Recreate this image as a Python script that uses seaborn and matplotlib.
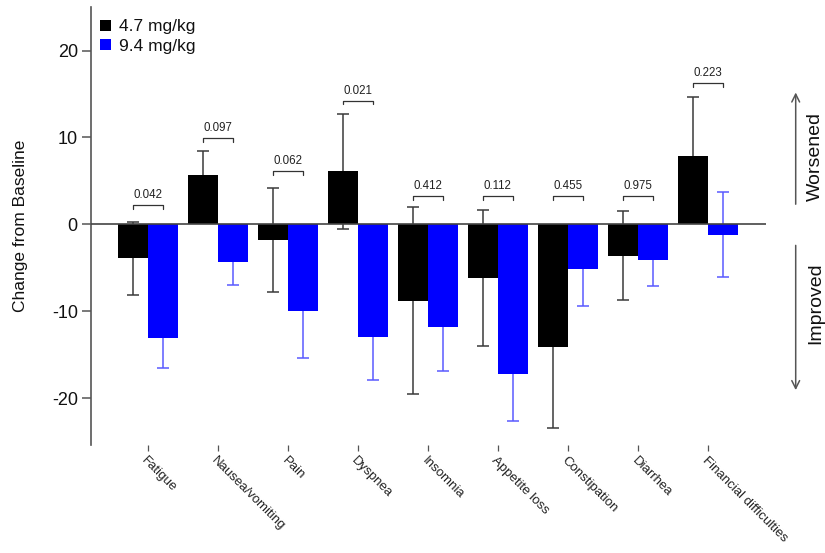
import matplotlib
matplotlib.use("Agg")
import matplotlib.pyplot as plt
import seaborn as sns
import pandas as pd

# QLQ-C30 symptom scales: mean change from baseline and standard error per dose
symptoms = ["Fatigue", "Nausea/vomiting", "Pain", "Dyspnea", "Insomnia",
            "Appetite loss", "Constipation", "Diarrhea", "Financial difficulties"]
doses = ["4.7 mg/kg", "9.4 mg/kg"]
mean_low = [-3.9, 5.7, -1.8, 6.1, -8.8, -6.2, -14.1, -3.6, 7.9]
se_low = [4.2, 2.8, 6.0, 6.65, 10.75, 7.8, 9.3, 5.1, 6.8]
mean_high = [-13.1, -4.3, -10.0, -13.0, -11.8, -17.2, -5.1, -4.1, -1.2]
se_high = [3.4, 2.7, 5.4, 4.9, 5.1, 5.4, 4.3, 3.0, 4.9]
p_values = ["0.042", "0.097", "0.062", "0.021", "0.412",
            "0.112", "0.455", "0.975", "0.223"]

# vertical level of each comparison bracket
bracket_levels = [2.2, 9.9, 6.1, 14.25, 3.3, 3.3, 3.3, 3.3, 16.3]

df = pd.DataFrame({
    "Symptom": symptoms * 2,
    "Dose": [doses[0]] * len(symptoms) + [doses[1]] * len(symptoms),
    "Change": mean_low + mean_high,
})

sns.set_style("white")
plt.rcParams["font.family"] = ["Liberation Sans", "DejaVu Sans"]
plt.rcParams["axes.unicode_minus"] = False

fig = plt.figure(figsize=(8.25, 5.53), dpi=100)
ax = fig.add_axes([91 / 825, 1 - 445 / 553, (766 - 91) / 825, (445 - 7.2) / 553])

bar_colors = ["#000000", "#0000ff"]
sns.barplot(data=df, x="Symptom", y="Change", hue="Dose", order=symptoms,
            hue_order=doses, palette=bar_colors, width=0.86, errorbar=None,
            saturation=1, linewidth=0, ax=ax, zorder=2)

# error bars sit behind the bars, so only the outward half shows
err_colors = ["#3a3a3a", "#5a5aff"]
centers = []
for container, means, ses, ec in zip(ax.containers, [mean_low, mean_high],
                                     [se_low, se_high], err_colors):
    xs = [p.get_x() + p.get_width() / 2 for p in container.patches]
    centers.append(xs)
    ax.errorbar(xs, means, yerr=ses, fmt="none", ecolor=ec, elinewidth=1.1,
                capsize=4.5, capthick=1.1, zorder=1)

ax.axhline(0, color="#444444", lw=1.2, zorder=3)

# p-value brackets between paired bars
for x0, x1, lvl, p in zip(centers[0], centers[1], bracket_levels, p_values):
    ax.plot([x0, x0, x1, x1], [lvl - 0.45, lvl, lvl, lvl - 0.45],
            color="#333333", lw=0.9, zorder=3)
    ax.text((x0 + x1) / 2, lvl + 0.45, p, ha="center", va="bottom",
            fontsize=8.3, color="#222222")

ax.set_xlim(-0.81, 8.83)
ax.set_ylim(-25.4, 25)
ax.set_yticks([-20, -10, 0, 10, 20])
ax.set_xlabel("")
ax.set_ylabel("Change from Baseline", fontsize=12.5, color="#111111", labelpad=17)

for side in ["top", "right", "bottom"]:
    ax.spines[side].set_visible(False)
ax.spines["left"].set_color("#555555")
ax.spines["left"].set_linewidth(1.2)

ax.tick_params(axis="y", which="major", direction="out", length=6.5, width=1.1,
               color="#555555", labelsize=13, labelcolor="#111111", pad=3, left=True)
ax.tick_params(axis="x", which="major", direction="out", length=4, width=0.9,
               color="#555555", labelsize=9.5, labelcolor="#222222", pad=3, bottom=True)
ax.set_xticks(range(len(symptoms)))
ax.set_xticklabels(symptoms, rotation=-45, ha="left", va="top",
                   rotation_mode="anchor")

leg = ax.legend(loc="upper left", frameon=False, fontsize=12.5,
                handlelength=0.62, handleheight=0.62, handletextpad=0.5,
                labelspacing=0.25, borderaxespad=0.5, borderpad=0.2,
                bbox_to_anchor=(-0.005, 1.0))
for t in leg.get_texts():
    t.set_color("#111111")

# direction guide on the right
trans = ax.get_yaxis_transform()
ax_x = (795.7 - 91) / (766 - 91)
arrow = dict(arrowstyle="->", color="#555555", lw=1.1, mutation_scale=14)
ax.annotate("", xy=(ax_x, 15.5), xytext=(ax_x, 2.0), xycoords=trans,
            textcoords=trans, arrowprops=arrow, annotation_clip=False)
ax.annotate("", xy=(ax_x, -19.4), xytext=(ax_x, -2.1), xycoords=trans,
            textcoords=trans, arrowprops=arrow, annotation_clip=False)
txt_x = (824 - 91) / (766 - 91)
ax.text(txt_x, 7.8, "Worsened", transform=trans, rotation=90, ha="right",
        va="center", fontsize=14, color="#111111", clip_on=False)
ax.text(txt_x, -9.1, "Improved", transform=trans, rotation=90, ha="right",
        va="center", fontsize=14, color="#111111", clip_on=False)

fig.savefig("out.png", dpi=100)
